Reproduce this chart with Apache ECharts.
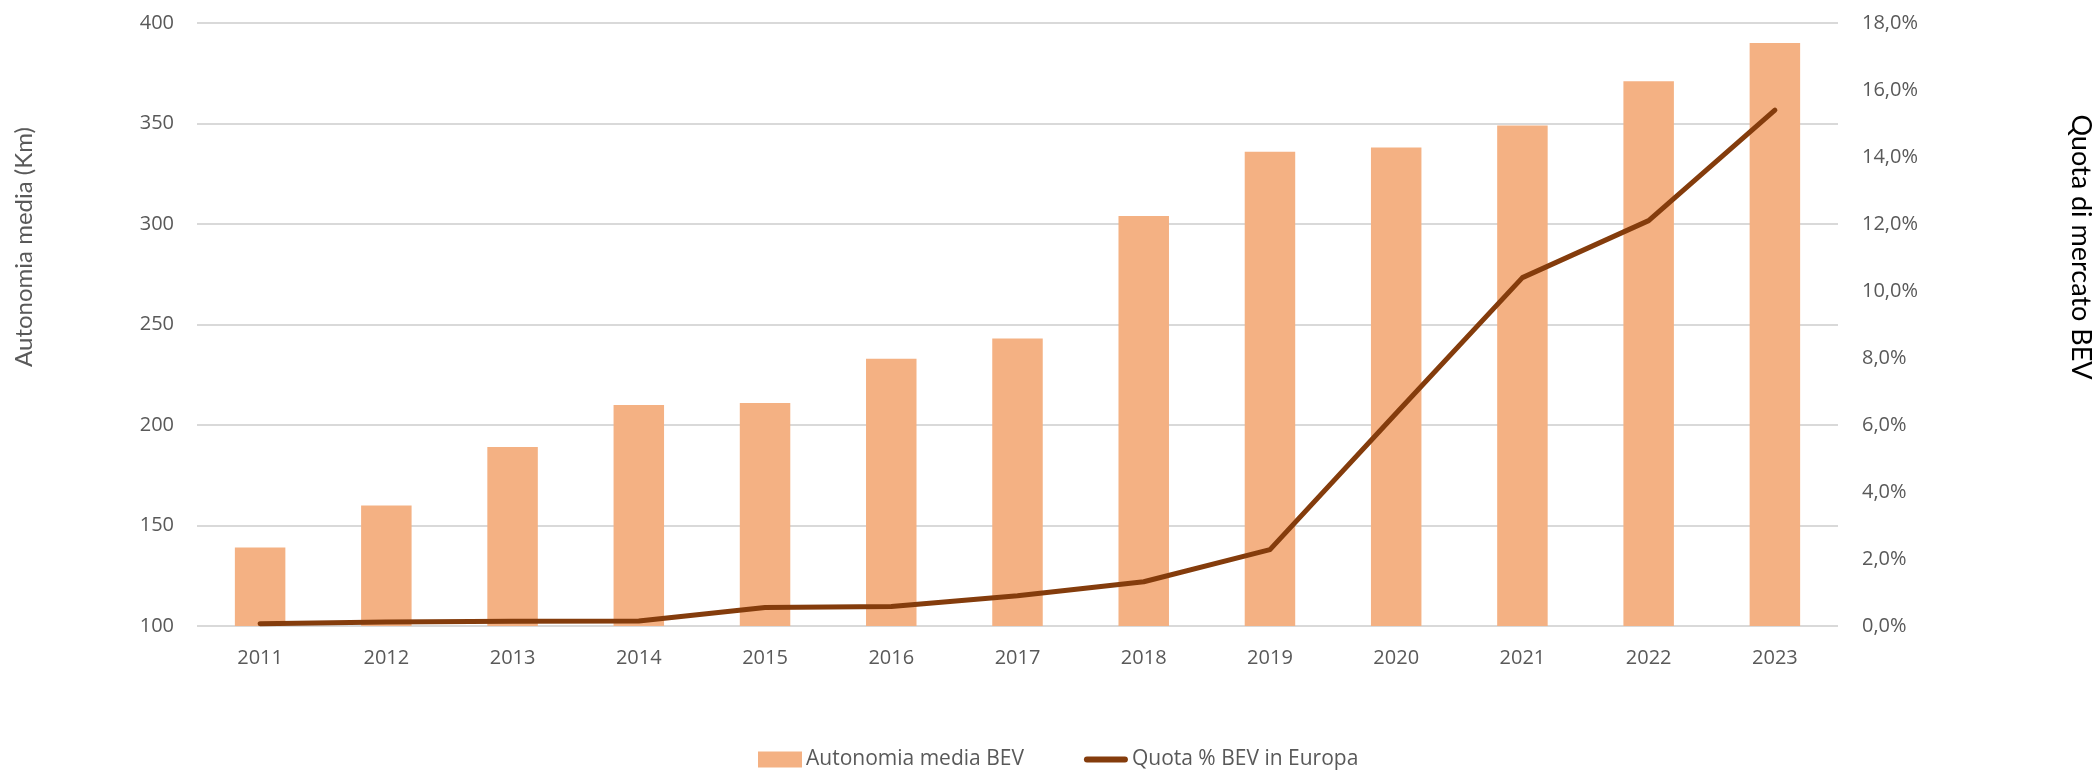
<!DOCTYPE html>
<html>
<head>
<meta charset="utf-8">
<script src="https://cdn.jsdelivr.net/npm/echarts@6/dist/echarts.min.js"></script>
<style>
html,body{margin:0;padding:0;background:#fff;}
#chart{width:2097px;height:771px;}
</style>
</head>
<body>
<div id="chart"></div>
<script>
const years = ['2011','2012','2013','2014','2015','2016','2017','2018','2019','2020','2021','2022','2023'];
const autonomia = [139,160,189,210,211,233,243,304,336,338,349,371,390];
const quota = [0.07,0.12,0.14,0.15,0.55,0.58,0.9,1.32,2.28,6.35,10.4,12.1,15.4];
const leftTitle = 'Autonomia media (Km)';
const rightTitle = 'Quota di mercato BEV';
const barName = 'Autonomia media BEV';
const lineName = 'Quota % BEV in Europa';

const chart = echarts.init(document.getElementById('chart'), null, {renderer:'canvas'});
const tickFont = {fontFamily:'Open Sans', fontSize:20, color:'#595959'};
chart.setOption({
  animation:false,
  backgroundColor:'#fff',
  grid:{left:197, right:259, top:23, bottom:145, containLabel:false},
  legend:{
    top:749, left:758, padding:0,
    itemWidth:44, itemHeight:16, itemGap:60,
    symbolKeepAspect:true,
    textStyle:{fontFamily:'Open Sans', fontSize:21, color:'#595959', padding:[0,0,0,-1]},
    data:[
      {name:barName, icon:'rect'},
      {name:lineName, icon:'path://M3,0 L41,0 A3,3 0 0 1 41,6 L3,6 A3,3 0 0 1 3,0 Z', itemStyle:{color:'#843C0C'}}
    ]
  },
  xAxis:{
    type:'category', data:years,
    axisLine:{show:false}, axisTick:{show:false},
    axisLabel:Object.assign({margin:22}, tickFont)
  },
  yAxis:[
    {type:'value', min:100, max:400, interval:50,
     axisLine:{show:false}, axisTick:{show:false},
     axisLabel:Object.assign({margin:23}, tickFont),
     splitLine:{lineStyle:{color:'#D9D9D9', width:2}}},
    {type:'value', min:0, max:18, interval:2, position:'right',
     axisLine:{show:false}, axisTick:{show:false},
     axisLabel:Object.assign({margin:24, formatter:v=>v.toFixed(1).replace('.',',')+'%'}, tickFont),
     splitLine:{show:false}}
  ],
  graphic:[
    {type:'text', x:24, y:247, rotation:Math.PI/2,
     style:{text:leftTitle, fontFamily:'Lato', fontSize:24, fill:'#595959', textAlign:'center', textVerticalAlign:'middle'}},
    {type:'text', x:2081, y:247, rotation:-Math.PI/2,
     style:{text:rightTitle, fontFamily:'Lato', fontSize:27, fill:'#000', textAlign:'center', textVerticalAlign:'middle'}}
  ],
  series:[
    {name:barName, type:'bar', data:autonomia, barWidth:'40%', yAxisIndex:0,
     itemStyle:{color:'#F4B183'}},
    {name:lineName, type:'line', data:quota, yAxisIndex:1, symbol:'none',
     lineStyle:{color:'#843C0C', width:5, cap:'round', join:'round'}, itemStyle:{color:'#843C0C'}}
  ]
});
</script>
</body>
</html>
